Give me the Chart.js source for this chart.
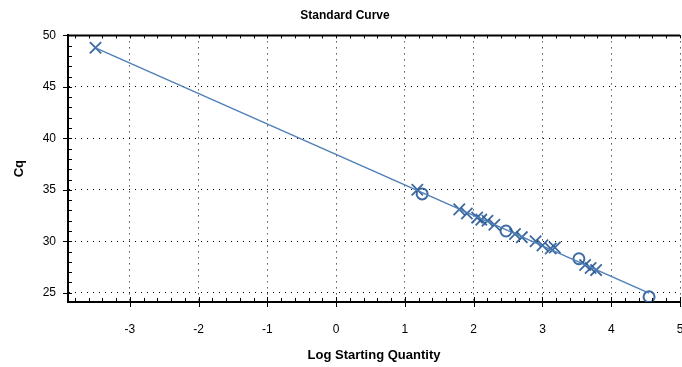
<!DOCTYPE html>
<html>
<head>
<meta charset="utf-8">
<script src="https://cdn.jsdelivr.net/npm/chart.js@4"></script>
<style>
  html, body { margin: 0; padding: 0; background: #fff; }
  #wrap { width: 682px; height: 367px; }
</style>
</head>
<body>
<div id="wrap"><canvas id="curva"></canvas></div>
<script>
// muestras desconocidas (marcador X)
const unkLog = [-3.5, 1.18, 1.79, 1.9, 2.05, 2.11, 2.2, 2.3, 2.6, 2.7, 2.9, 3.0, 3.12, 3.18, 3.62, 3.7, 3.78];
const unkCq  = [48.8, 35.0, 33.1, 32.7, 32.3, 32.1, 32.0, 31.6, 30.7, 30.4, 30.0, 29.6, 29.3, 29.4, 27.7, 27.4, 27.2];
// estandares (marcador O)
const stdLog = [1.25, 2.47, 3.53, 4.55];
const stdCq  = [34.6, 31.0, 28.3, 24.6];

const xTicks = [-3, -2, -1, 0, 1, 2, 3, 4, 5];
const yTicks = [25, 30, 35, 40, 45, 50];

// regresion lineal sobre todos los puntos
let allX = unkLog.concat(stdLog);
let allY = unkCq.concat(stdCq);
let n = allX.length;
let sx = 0, sy = 0, sxy = 0, sxx = 0;
for (let i = 0; i < n; i++) {
  sx += allX[i]; sy += allY[i];
  sxy += allX[i] * allY[i]; sxx += allX[i] * allX[i];
}
let a = (n * sxy - sx * sy) / (n * sxx - sx * sx);
let b = (sy - a * sx) / n;
let xmin = Math.min(...allX), xmax = Math.max(...allX);
const lineaFit = [ { x: xmin, y: a * xmin + b }, { x: xmax, y: a * xmax + b } ];

const azul = 'rgba(40,90,150,0.9)';

// marcas menores en los ejes y borde superior
const ticksMenores = {
  id: 'ticksMenores',
  afterDraw(chart) {
    const c = chart.ctx, xs = chart.scales.x, ys = chart.scales.y, ca = chart.chartArea;
    c.save();
    c.strokeStyle = '#000';
    c.lineWidth = 1;
    c.beginPath();
    // eje y
    for (let v = 25; v <= 50; v += 1) {
      let py = Math.round(ys.getPixelForValue(v)) + 0.5;
      if (v % 5 == 0) { c.moveTo(ca.left - 5, py); c.lineTo(ca.left + 4, py); }
      else { c.moveTo(ca.left, py); c.lineTo(ca.left + 4, py); }
    }
    // eje x
    for (let k = -19; k <= 25; k++) {
      let v = k * 0.2;
      let px = Math.round(xs.getPixelForValue(v)) + 0.5;
      if (px < ca.left || px > ca.right + 1) continue;
      if (k % 5 == 0) { c.moveTo(px, ca.bottom - 5); c.lineTo(px, ca.bottom + 5); }
      else { c.moveTo(px, ca.bottom - 4); c.lineTo(px, ca.bottom); }
      // borde superior
      c.moveTo(px, ca.top); c.lineTo(px, ca.top + 3);
    }
    c.stroke();
    c.lineWidth = 2;
    c.beginPath();
    c.moveTo(ca.left, ca.top); c.lineTo(ca.right, ca.top);
    c.stroke();
    c.restore();
  }
};

new Chart(document.getElementById('curva'), {
  type: 'scatter',
  data: {
    datasets: [{
      label: 'Ajuste',
      type: 'line',
      data: lineaFit,
      borderColor: '#4f7fb8',
      borderWidth: 1.4,
      pointRadius: 0,
      fill: false
    }, {
      label: 'Desconocidas',
      data: unkLog.map((v, i) => ({ x: v, y: unkCq[i] })),
      pointStyle: 'crossRot',
      pointRadius: 8,
      borderColor: azul,
      borderWidth: 1.8
    }, {
      label: 'Estandares',
      data: stdLog.map((v, i) => ({ x: v, y: stdCq[i] })),
      pointStyle: 'circle',
      pointRadius: 5.5,
      backgroundColor: 'rgba(255,255,255,0)',
      borderColor: azul,
      borderWidth: 2
    }]
  },
  options: {
    responsive: true,
    maintainAspectRatio: false,
    animation: false,
    layout: { autoPadding: false, padding: { left: 10, right: 2, top: 4, bottom: 4 } },
    plugins: {
      legend: { display: false },
      tooltip: { enabled: false },
      title: {
        display: true,
        text: 'Standard Curve',
        color: '#000',
        font: { family: 'Liberation Sans', size: 12, weight: 'bold' },
        padding: { top: 4, bottom: 13 }
      }
    },
    scales: {
      x: {
        type: 'linear',
        min: -3.9, max: 5,
        afterBuildTicks: s => { s.ticks = xTicks.map(v => ({ value: v })); },
        afterFit: s => { s.height = 61; s.paddingRight = 0; s.paddingLeft = 0; },
        ticks: { color: '#000', font: { family: 'Liberation Sans', size: 12 }, padding: 20, maxRotation: 0 },
        grid: { color: '#000', tickLength: 0, lineWidth: 1 },
        border: { color: '#000', width: 2, dash: [1, 5] },
        title: {
          display: true, text: 'Log Starting Quantity', color: '#000',
          font: { family: 'Liberation Sans', size: 13, weight: 'bold' }, padding: { top: 6, bottom: 0 }
        }
      },
      y: {
        type: 'linear',
        min: 24.1, max: 50,
        afterBuildTicks: s => { s.ticks = yTicks.map(v => ({ value: v })); },
        afterFit: s => { s.width = 58; },
        ticks: { color: '#000', font: { family: 'Liberation Sans', size: 12 }, padding: 12 },
        grid: { color: '#000', tickLength: 0, lineWidth: 1 },
        border: { color: '#000', width: 2, dash: [1, 5] },
        title: {
          display: true, text: 'Cq', color: '#000',
          font: { family: 'Liberation Sans', size: 13, weight: 'bold' }, padding: { top: 2, bottom: 6 }
        }
      }
    }
  },
  plugins: [ticksMenores]
});
</script>
</body>
</html>
